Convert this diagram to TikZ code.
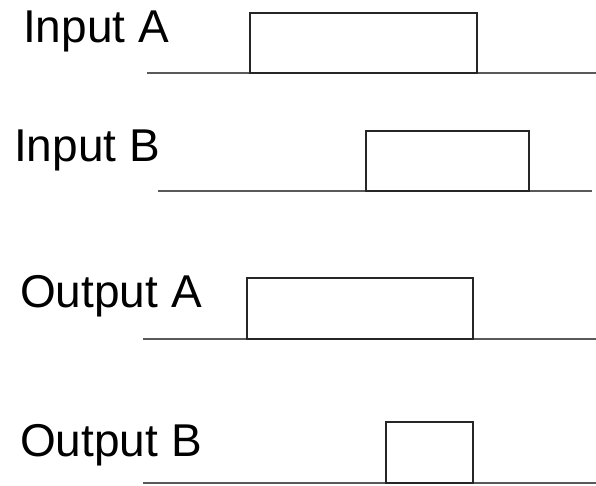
\documentclass[tikz,border=0pt]{standalone}
\usepackage{fontspec}
\setmainfont{Liberation Sans}
\tikzset{
  lbl/.style={anchor=base west, inner sep=0pt, font=\fontsize{46}{55}\selectfont},
  baseln/.style={draw=black!65, line width=2pt},
  pulse/.style={draw=black!85, line width=1.8pt, line join=miter}
}
\begin{document}
\begin{tikzpicture}[x=1pt,y=1pt]
\useasboundingbox (0,0) rectangle (596,486);
% labels (y = 486 - pixel row)
\node[lbl] (ia) at (23,443) {Input A};
\node[lbl] (ib) at (14,324) {Input B};
\node[lbl] (oa) at (20,178) {Output A};
\node[lbl] (ob) at (20,29) {Output B};
% Input A
\draw[baseln] (147,413) -- (596,413);
\draw[pulse] (250,413) rectangle (477,473);
% Input B
\draw[baseln] (158,295) -- (592,295);
\draw[pulse] (366,295) rectangle (529,355);
% Output A
\draw[baseln] (143,147) -- (596,147);
\draw[pulse] (247,147) rectangle (473,208);
% Output B
\draw[baseln] (143,3) -- (596,3);
\draw[pulse] (386,3) rectangle (473,64);
\end{tikzpicture}
\end{document}
